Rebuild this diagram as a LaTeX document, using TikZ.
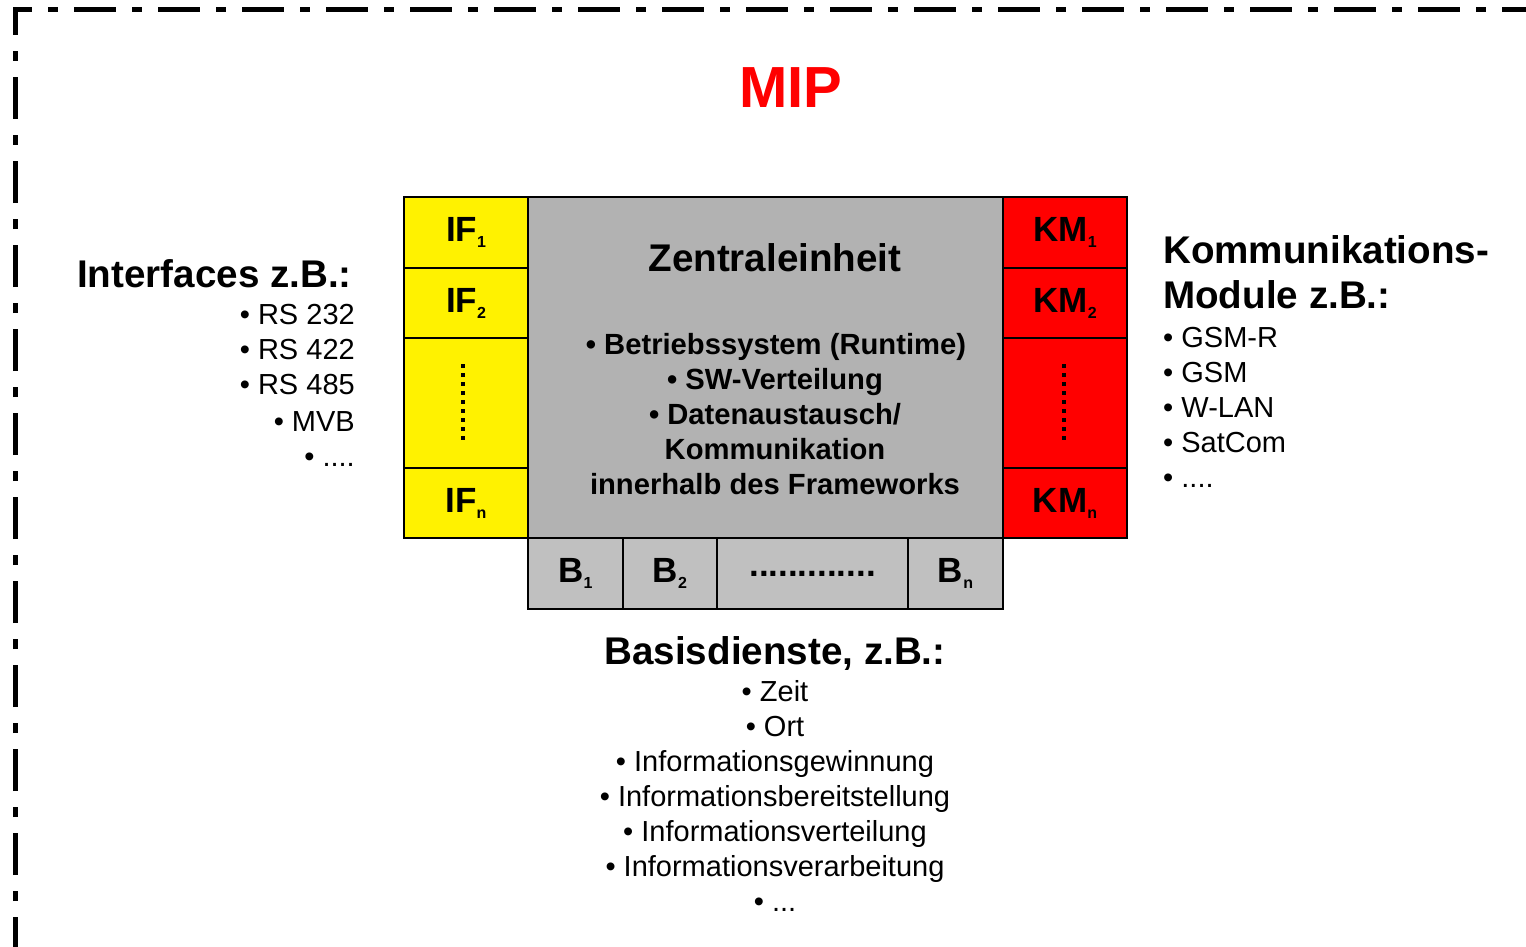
\documentclass[tikz,border=0pt]{standalone}
\usepackage{fontspec}
\setmainfont{Liberation Sans}
\newcommand{\fsz}[1]{\fontsize{#1}{#1}\selectfont}
\newcommand{\subsc}[1]{\raisebox{-6pt}{\fontsize{16}{16}\selectfont #1}}
\definecolor{zgrey}{RGB}{178,178,178}
\definecolor{bgrey}{RGB}{192,192,192}
\definecolor{mipred}{RGB}{255,0,0}
\tikzset{
  frame/.style={line width=5, dash pattern=on 42 off 16 on 10 off 16, dash phase=43},
  cell/.style={draw=black, line width=1.5, inner sep=0, font={\bfseries\fsz{35}}},
  head/.style={font={\bfseries\fsz{38.6}}, inner sep=0, anchor=base},
  zitem/.style={font={\bfseries\fsz{29.2}}, inner sep=0, anchor=base},
  item/.style={font={\fsz{29}}, inner sep=0, anchor=base},
  vdots/.style={line width=4, dash pattern=on 4 off 5},
}
\begin{document}
\begin{tikzpicture}[x=1pt,y=-1pt]
\clip (0,0) rectangle (1526,947);
\fill[white] (0,0) rectangle (1526,947);
\draw[frame] (15,1000) -- (15,10) -- (1600,10);

\node[font={\bfseries\fsz{58}}, text=mipred, inner sep=0, anchor=base] (mip) at (791,108) {MIP};

% central unit
\node[cell, fill=zgrey, minimum width=475, minimum height=341] (zentral) at (765.5,367.5) {};
\node[head] (ztitle) at (775,271) {Zentraleinheit};
\node[zitem] (z1) at (776,354) {• Betriebssystem (Runtime)};
\node[zitem] (z2) at (775,389) {• SW-Verteilung};
\node[zitem] (z3) at (775,424) {• Datenaustausch/};
\node[zitem] (z4) at (775,459) {Kommunikation};
\node[zitem] (z5) at (775,494) {innerhalb des Frameworks};

% interfaces
\node[cell, fill=yellow, minimum width=124, minimum height=71] (if1) at (466,232.5) {IF\subsc{1}};
\node[cell, fill=yellow, minimum width=124, minimum height=70] (if2) at (466,303) {IF\subsc{2}};
\node[cell, fill=yellow, minimum width=124, minimum height=130] (ifd) at (466,403) {};
\node[cell, fill=yellow, minimum width=124, minimum height=70] (ifn) at (466,503) {IF\subsc{n}};
\draw[vdots] (ifd.center) ++(-3,-39) coordinate (ifdt) -- ++(0,78) coordinate (ifdb);

% communication modules
\node[cell, fill=mipred, minimum width=124, minimum height=71] (km1) at (1065,232.5) {KM\subsc{1}};
\node[cell, fill=mipred, minimum width=124, minimum height=70] (km2) at (1065,303) {KM\subsc{2}};
\node[cell, fill=mipred, minimum width=124, minimum height=130] (kmd) at (1065,403) {};
\node[cell, fill=mipred, minimum width=124, minimum height=70] (kmn) at (1065,503) {KM\subsc{n}};
\draw[vdots] (kmd.center) ++(-1,-39) coordinate (kmdt) -- ++(0,78) coordinate (kmdb);

% base services
\node[cell, fill=bgrey, minimum width=95, minimum height=71] (b1) at (575.5,573.5) {B\subsc{1}};
\node[cell, fill=bgrey, minimum width=94, minimum height=71] (b2) at (670,573.5) {B\subsc{2}};
\node[cell, fill=bgrey, minimum width=191, minimum height=71] (bd) at (812.5,573.5) {.............};
\node[cell, fill=bgrey, minimum width=95, minimum height=71] (bn) at (955.5,573.5) {B\subsc{n}};

% left texts
\node[head, anchor=base east] (ifh) at (352,287) {Interfaces z.B.:};
\node[item, anchor=base east] (ifl1) at (355,324) {• RS 232};
\node[item, anchor=base east] (ifl2) at (355,359) {• RS 422};
\node[item, anchor=base east] (ifl3) at (355,394) {• RS 485};
\node[item, anchor=base east] (ifl4) at (355,431) {• MVB};
\node[item, anchor=base east] (ifl5) at (355,466) {• ....};

% right texts
\node[head, anchor=base west] (kmh1) at (1163,263) {Kommunikations-};
\node[head, anchor=base west] (kmh2) at (1163,308) {Module z.B.:};
\node[item, anchor=base west] (kml1) at (1163,347) {• GSM-R};
\node[item, anchor=base west] (kml2) at (1163,382) {• GSM};
\node[item, anchor=base west] (kml3) at (1163,417) {• W-LAN};
\node[item, anchor=base west] (kml4) at (1163,452) {• SatCom};
\node[item, anchor=base west] (kml5) at (1163,487) {• ....};

% bottom texts
\node[head] (bh) at (775,664) {Basisdienste, z.B.:};
\node[item] (bl1) at (775,701) {• Zeit};
\node[item] (bl2) at (775,736) {• Ort};
\node[item] (bl3) at (775,771) {• Informationsgewinnung};
\node[item] (bl4) at (775,806) {• Informationsbereitstellung};
\node[item] (bl5) at (775,841) {• Informationsverteilung};
\node[item] (bl6) at (775,876) {• Informationsverarbeitung};
\node[item] (bl7) at (775,911) {• ...};
\end{tikzpicture}
\end{document}
